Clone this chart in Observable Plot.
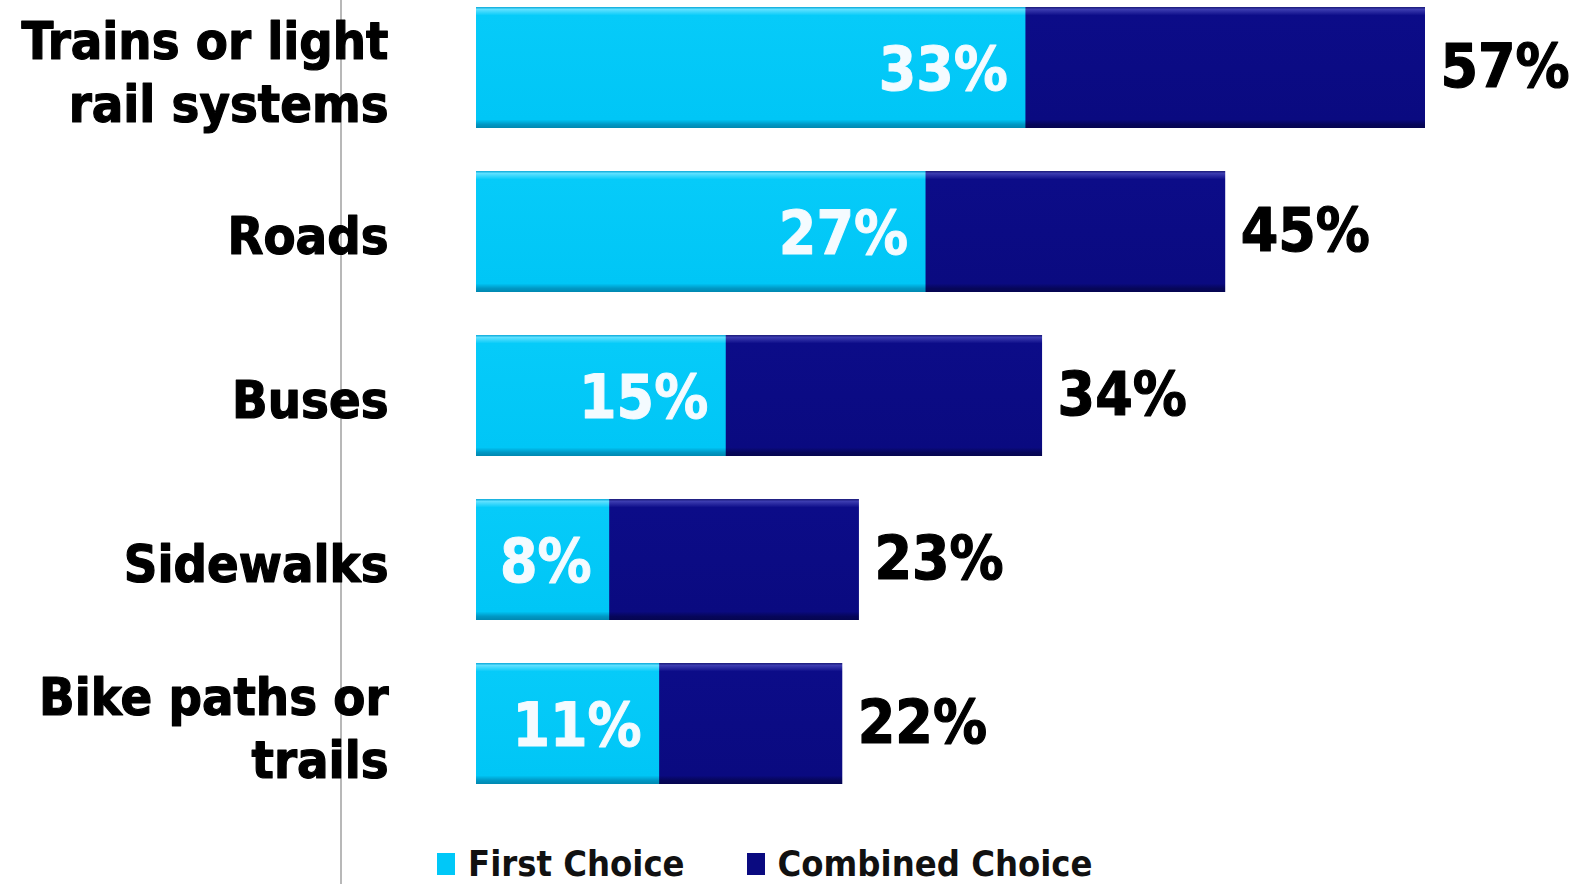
<!DOCTYPE html>
<html>
<head>
<meta charset="utf-8">
<script src="https://cdn.jsdelivr.net/npm/d3@7"></script>
<script src="https://cdn.jsdelivr.net/npm/@observablehq/plot@0.6"></script>
<style>
  html, body { margin: 0; padding: 0; background: #fff; overflow: hidden; }
  #wrap { position: relative; width: 1595px; height: 884px; }
  #vline { position: absolute; left: 340px; top: 0; width: 2px; height: 884px; background: #b8b8b8; }
  #chart { position: relative; }
  #legend { position: relative; display: flex; align-items: center; padding-left: 437px; margin-top: 4px;
            font-family: "DejaVu Sans Condensed", "DejaVu Sans", sans-serif; font-stretch: condensed;
            font-weight: bold; font-size: 36px; line-height: 40px; height: 40px; color: #111; }
  .item { display: flex; align-items: center; }
  .sw { width: 18px; height: 22px; margin-right: 13px; }
</style>
</head>
<body>
<div id="wrap">
  <div id="vline"></div>
  <div id="chart"></div>
  <div id="legend"></div>
</div>
<script>
const categories = ["Trains or light rail systems", "Roads", "Buses", "Sidewalks", "Bike paths or trails"];
const categoryLabels = ["Trains or light\nrail systems", "Roads", "Buses", "Sidewalks", "Bike paths or\ntrails"];
const firstChoice = [33, 27, 15, 8, 11];
const combinedChoice = [57, 45, 34, 23, 22];
const seriesNames = ["First Choice", "Combined Choice"];
const seriesColors = ["#00c8f8", "#0a0a80"];

const rows = categories.map((c, i) => ({
  cat: c, label: categoryLabels[i], first: firstChoice[i], combined: combinedChoice[i]
}));

const font = '"DejaVu Sans Condensed", "DejaVu Sans", sans-serif';

const chart = Plot.plot({
  width: 1595,
  height: 840,
  marginLeft: 476,
  marginRight: 170,
  marginTop: 0,
  marginBottom: 49,
  style: { fontFamily: font, background: "transparent", overflow: "visible" },
  x: { domain: [0, 57], axis: null },
  y: { domain: categories, axis: null, paddingInner: 0.265, paddingOuter: 0.036 },
  marks: [
    Plot.barX(rows, { y: "cat", x1: 0, x2: "combined", fill: "url(#gNavy)", inset: 0 }),
    Plot.barX(rows, { y: "cat", x1: 0, x2: "first", fill: "url(#gCyan)", inset: 0 }),
    Plot.text(rows, { y: "cat", x: 0, text: "label", textAnchor: "end", dx: -88, dy: 2,
      fontSize: 52, fontWeight: "bold", lineHeight: 1.21, fill: "#000", stroke: "#000", strokeWidth: 1.2 }),
    Plot.text(rows, { y: "cat", x: "combined", text: d => d.combined + "%", textAnchor: "start", dx: 15,
      fontSize: 60, fontWeight: "bold", fill: "#000", stroke: "#000", strokeWidth: 1.2 }),
    Plot.text(rows, { y: "cat", x: "first", text: d => d.first + "%", textAnchor: "end", dx: -18, dy: 3,
      fontSize: 60, fontWeight: "bold", fill: "#f4fbff", stroke: "#e8f8ff", strokeWidth: 1 })
  ]
});

d3.select(chart).selectAll("text").style("font-stretch", "condensed");

const defs = d3.select(chart).insert("defs", ":first-child");
const gc = defs.append("linearGradient").attr("id", "gCyan").attr("x1", 0).attr("y1", 0).attr("x2", 0).attr("y2", 1);
[[0, "#0aa8d8"], [0.02, "#5fe0ff"], [0.07, "#06cbf9"], [0.93, "#00c6f6"], [0.97, "#0098c4"], [1, "#0088b0"]]
  .forEach(([o, c]) => gc.append("stop").attr("offset", o).attr("stop-color", c));
const gn = defs.append("linearGradient").attr("id", "gNavy").attr("x1", 0).attr("y1", 0).attr("x2", 0).attr("y2", 1);
[[0, "#1a1a78"], [0.02, "#3c3cb0"], [0.07, "#0c0c88"], [0.93, "#0a0a80"], [0.97, "#06065a"], [1, "#050550"]]
  .forEach(([o, c]) => gn.append("stop").attr("offset", o).attr("stop-color", c));

document.getElementById("chart").appendChild(chart);

const legend = d3.select("#legend");
seriesNames.forEach((name, i) => {
  const item = legend.append("div").attr("class", "item").style("margin-right", i === 0 ? "62px" : "0");
  item.append("div").attr("class", "sw").style("background", seriesColors[i]);
  item.append("span").text(name);
});
</script>
</body>
</html>
